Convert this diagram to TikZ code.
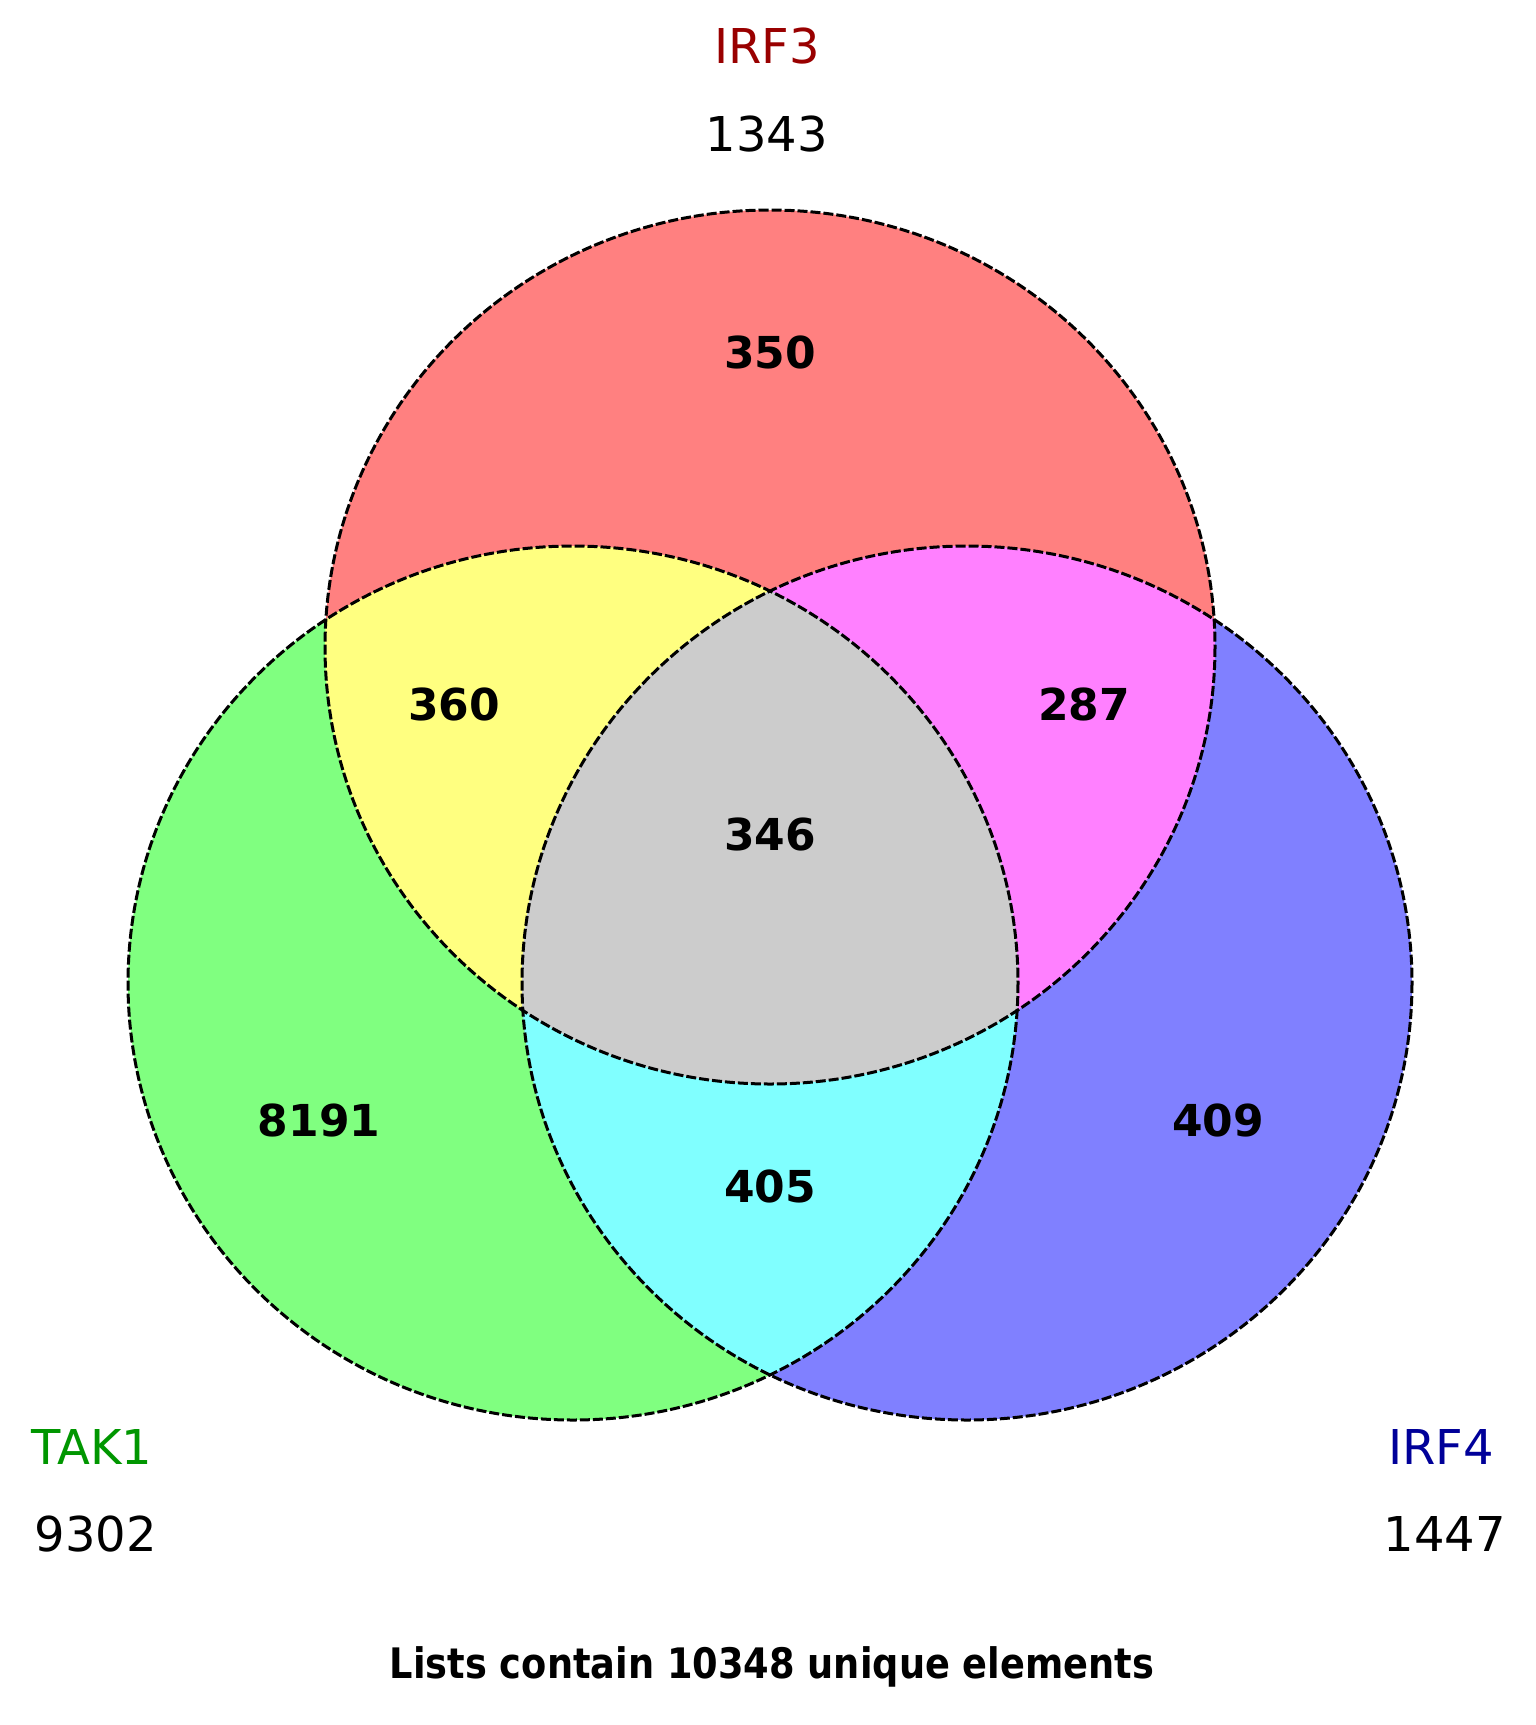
\documentclass[tikz,border=0pt]{standalone}
\usepackage{fontspec}
\setmainfont{DejaVu Sans}
\usetikzlibrary{positioning}
\definecolor{setIRFthree}{RGB}{255,128,128}
\definecolor{setTAK}{RGB}{128,255,128}
\definecolor{setIRFfour}{RGB}{128,128,255}
\definecolor{pairAB}{RGB}{255,255,128}
\definecolor{pairAC}{RGB}{255,128,255}
\definecolor{pairBC}{RGB}{128,255,255}
\definecolor{allABC}{RGB}{204,204,204}
\definecolor{capIRFthree}{RGB}{153,0,0}
\definecolor{capTAK}{RGB}{0,150,0}
\definecolor{capIRFfour}{RGB}{0,0,153}

\begin{document}
\begin{tikzpicture}[
    x=1pt, y=-1pt,
    every node/.style={inner sep=0pt},
    setname/.style={font=\fontsize{48}{52}\selectfont},
    setsize/.style={font=\fontsize{48}{52}\selectfont, black},
    count/.style={font=\fontsize{44}{48}\selectfont\bfseries},
    rim/.style={draw=black, line width=3pt, dash pattern=on 10pt off 3pt},
]
\useasboundingbox (0,0) rectangle (1535,1725);

% ============================================================
% Sets
% ============================================================
\def\top{(770,647) ellipse [x radius=445, y radius=437]}
\def\lft{(573,983) ellipse [x radius=445, y radius=437]}
\def\rgt{(967,983) ellipse [x radius=445, y radius=437]}

\fill[setIRFthree] \top;
\fill[setTAK] \lft;
\fill[setIRFfour] \rgt;
% pairwise overlaps
\begin{scope}
    \clip \top;
    \fill[pairAB] \lft;
    \fill[pairAC] \rgt;
\end{scope}
\begin{scope}
    \clip \lft;
    \fill[pairBC] \rgt;
\end{scope}
% triple overlap
\begin{scope}
    \clip \top;
    \clip \lft;
    \fill[allABC] \rgt;
\end{scope}
% outlines
\draw[rim] \top;
\draw[rim] \lft;
\draw[rim] \rgt;

% ============================================================
% Region counts
% ============================================================
\node[count] (onlyA) at (770,352) {350};
\node[count] (AB) at (454,704) {360};
\node[count] (AC) at (1084,704) {287};
\node[count] (ABC) at (770,834) {346};
\node[count] (onlyB) at (319,1120) {8191};
\node[count] (BC) at (770,1186) {405};
\node[count] (onlyC) at (1218,1120) {409};

% ============================================================
% Set labels
% ============================================================
\node[setname, capIRFthree] (irfA) at (767,46) {IRF3};
\node[setsize] (irfAn) at (767,134) {1343};
\node[setname, capTAK] (tak) at (92,1447) {TAK1};
\node[setsize] (takn) at (96,1534) {9302};
\node[setname, capIRFfour] (irfB) at (1441,1447) {IRF4};
\node[setsize] (irfBn) at (1445,1534) {1447};

\node[font=\fontsize{42}{46}\selectfont\bfseries] (total) at (772,1667)
    {\scalebox{0.875}[1]{Lists contain 10348 unique elements}};

\end{tikzpicture}
\end{document}
